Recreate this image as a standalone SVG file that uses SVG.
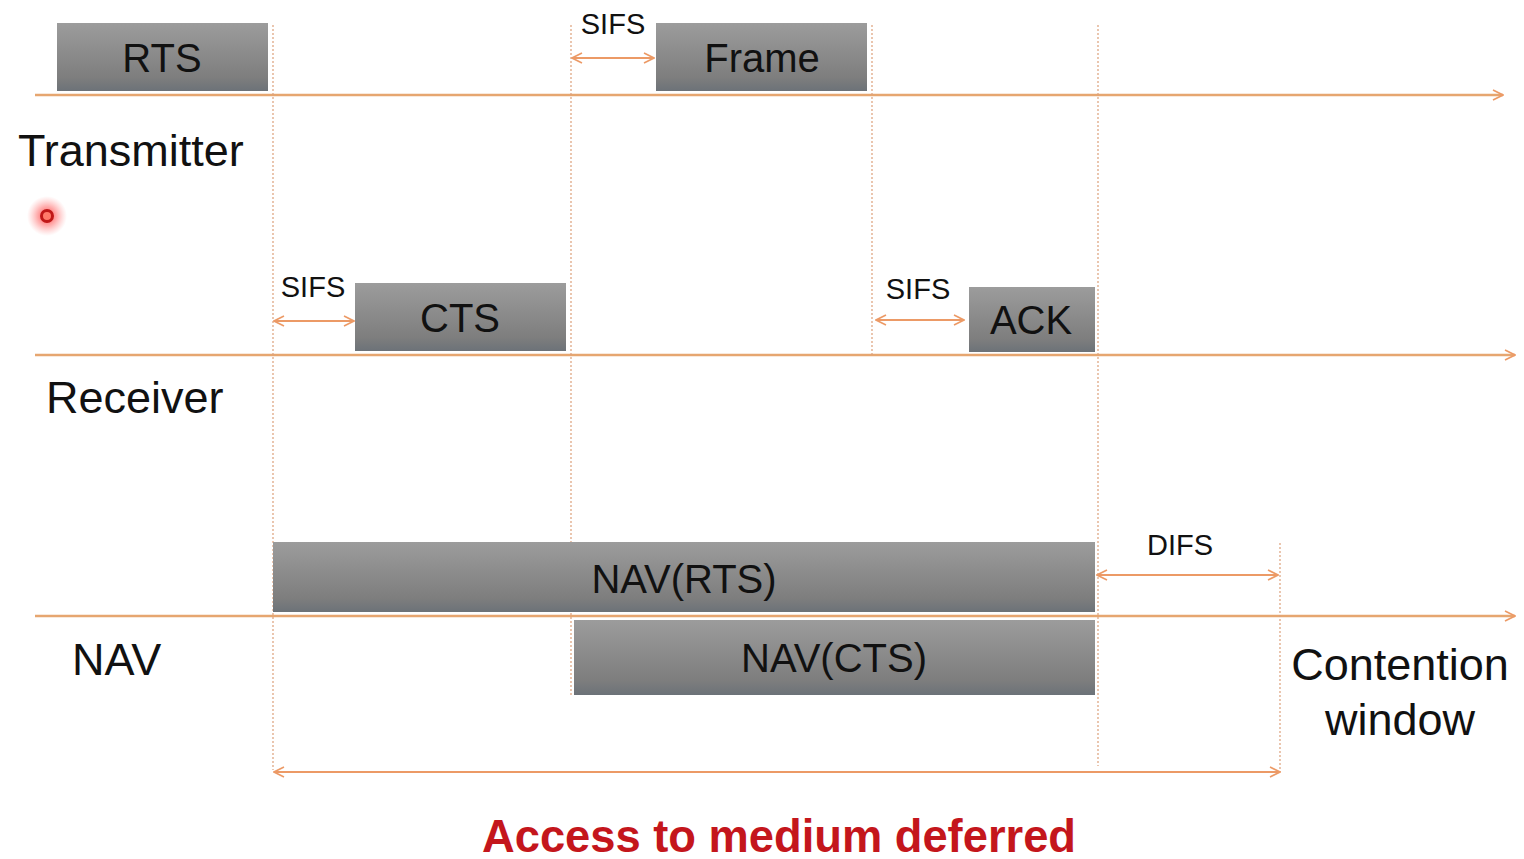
<svg xmlns="http://www.w3.org/2000/svg" width="1524" height="859" viewBox="0 0 1524 859">
<defs>
<linearGradient id="box" x1="0" y1="0" x2="0" y2="1">
<stop offset="0" stop-color="#9c9c9c"/>
<stop offset="0.8" stop-color="#7e7e7e"/>
<stop offset="1" stop-color="#6c7278"/>
</linearGradient>
<radialGradient id="glow">
<stop offset="0" stop-color="#ff3030" stop-opacity="0.9"/>
<stop offset="0.5" stop-color="#ff5050" stop-opacity="0.45"/>
<stop offset="1" stop-color="#ff8080" stop-opacity="0"/>
</radialGradient>
<marker id="ah" viewBox="0 0 12 12" refX="11" refY="6" markerWidth="12" markerHeight="12" markerUnits="userSpaceOnUse" orient="auto-start-reverse">
<path d="M1,1 L11,6 L1,11" fill="none" stroke="#ec9a66" stroke-width="1.6"/>
</marker>
</defs>
<style>
.box{fill:url(#box);}
.lbl{font-family:"Liberation Sans",Arial,sans-serif;fill:#111;text-anchor:middle;}
.big{font-size:40px;}
.sm{font-size:29px;}
.side{font-size:45px;font-family:"Liberation Sans",Arial,sans-serif;fill:#111;}
.axis{stroke:#e6a670;stroke-width:2.4;fill:none;}
.dash{stroke:#dca07a;stroke-width:1.2;stroke-dasharray:2 2;fill:none;}
.dur{stroke:#ec9a66;stroke-width:2;fill:none;}
</style>
<rect width="1524" height="859" fill="#fff"/>

<g id="connectors">
<line class="axis" x1="35" y1="95" x2="1503" y2="95" marker-end="url(#ah)"/>
<line class="axis" x1="35" y1="355" x2="1515" y2="355" marker-end="url(#ah)"/>
<line class="axis" x1="35" y1="616" x2="1515" y2="616" marker-end="url(#ah)"/>
<line class="dash" x1="273" y1="25" x2="273" y2="770"/>
<line class="dash" x1="571" y1="25" x2="571" y2="697"/>
<line class="dash" x1="872" y1="25" x2="872" y2="355"/>
<line class="dash" x1="1098" y1="25" x2="1098" y2="766"/>
<line class="dash" x1="1280" y1="543" x2="1280" y2="772"/>
<line class="dur" x1="572" y1="58" x2="654" y2="58" marker-start="url(#ah)" marker-end="url(#ah)"/>
<line class="dur" x1="274" y1="321" x2="354" y2="321" marker-start="url(#ah)" marker-end="url(#ah)"/>
<line class="dur" x1="876" y1="320" x2="964" y2="320" marker-start="url(#ah)" marker-end="url(#ah)"/>
<line class="dur" x1="1097" y1="575" x2="1278" y2="575" marker-start="url(#ah)" marker-end="url(#ah)"/>
<line class="dur" x1="274" y1="772" x2="1280" y2="772" marker-start="url(#ah)" marker-end="url(#ah)"/>
</g>

<g id="rts"><rect class="box" x="57" y="23" width="211" height="68"/><text class="lbl big" x="162" y="72">RTS</text></g>
<g id="frame"><rect class="box" x="656" y="23" width="211" height="68"/><text class="lbl big" x="762" y="72">Frame</text></g>
<g id="cts"><rect class="box" x="355" y="283" width="211" height="68"/><text class="lbl big" x="460" y="332">CTS</text></g>
<g id="ack"><rect class="box" x="969" y="287" width="126" height="65"/><text class="lbl big" x="1031" y="334">ACK</text></g>
<g id="nav-rts"><rect class="box" x="273" y="542" width="822" height="70"/><text class="lbl big" x="684" y="593">NAV(RTS)</text></g>
<g id="nav-cts"><rect class="box" x="574" y="620" width="521" height="75"/><text class="lbl big" x="834" y="672">NAV(CTS)</text></g>

<g id="sifs-labels">
<text class="lbl sm" x="613" y="34">SIFS</text>
<text class="lbl sm" x="313" y="297">SIFS</text>
<text class="lbl sm" x="918" y="299">SIFS</text>
<text class="lbl sm" x="1180" y="555">DIFS</text>
</g>

<g id="side-labels">
<text class="side" x="18" y="166">Transmitter</text>
<text class="side" x="46" y="413">Receiver</text>
<text class="side" x="72" y="675">NAV</text>
<text class="side" x="1400" y="680" text-anchor="middle">Contention</text>
<text class="side" x="1400" y="735" text-anchor="middle">window</text>
</g>

<g id="cursor">
<circle cx="47" cy="216" r="20" fill="url(#glow)"/>
<circle cx="47" cy="216" r="5.5" fill="#ff7a6a" stroke="#c01818" stroke-width="3"/>
</g>

<g id="title">
<text x="779" y="852" text-anchor="middle" font-family="'Liberation Sans',Arial,sans-serif" font-weight="bold" font-size="47" fill="#c4161c" textLength="594" lengthAdjust="spacingAndGlyphs">Access to medium deferred</text>
</g>
</svg>
